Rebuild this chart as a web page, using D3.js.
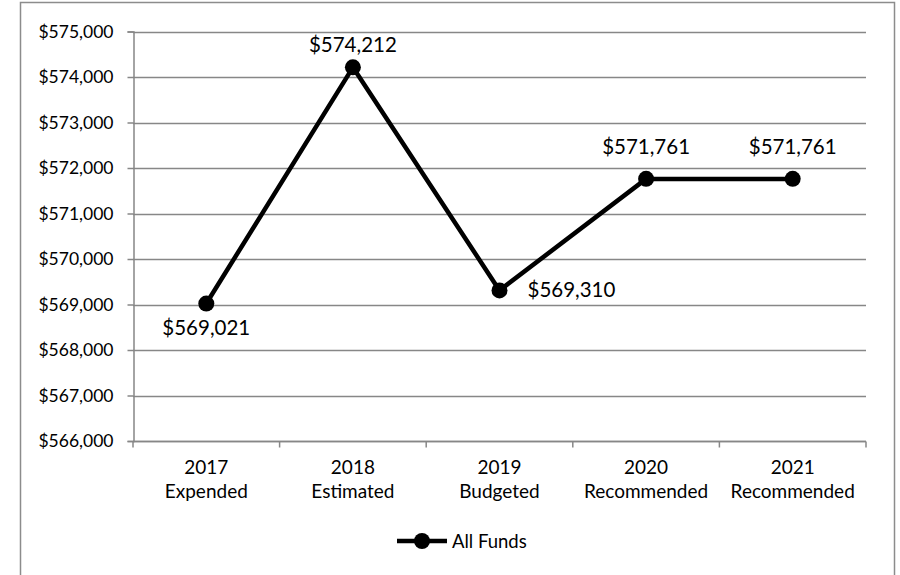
<!DOCTYPE html>
<html>
<head>
<meta charset="utf-8">
<script src="https://cdn.jsdelivr.net/npm/d3@7"></script>
<style>
  body { margin: 0; background: #fff; }
  text { font-family: Lato, "Open Sans", sans-serif; fill: #000; }
</style>
</head>
<body>
<svg id="chart"></svg>
<script>
// chart data
const years = ["2017", "2018", "2019", "2020", "2021"];
const stages = ["Expended", "Estimated", "Budgeted", "Recommended", "Recommended"];
const allFunds = [569021, 574212, 569310, 571761, 571761];
const yTicks = [566000, 567000, 568000, 569000, 570000, 571000, 572000, 573000, 574000, 575000];
// where each value label sits relative to its point
const labelPos = ["below", "top", "right", "above", "above"];
const seriesName = "All Funds";

const width = 900;
const height = 575;
const margin = { top: 31.5, right: 34, bottom: 134, left: 133 };

const svg = d3.select("#chart")
    .attr("width", width)
    .attr("height", height);

// outer chart frame
svg.append("rect")
    .attr("x", 20.5)
    .attr("y", 2.5)
    .attr("width", 874)
    .attr("height", 590)
    .attr("fill", "none")
    .attr("stroke", "#8c8c8c")
    .attr("stroke-width", 1.5);

const data = years.map((y, i) => ({ year: y, stage: stages[i], value: allFunds[i], pos: labelPos[i] }));

const x = d3.scaleBand()
    .domain(years)
    .range([margin.left, width - margin.right]);

const y = d3.scaleLinear()
    .domain([566000, 575000])
    .range([height - margin.bottom, margin.top]);

const fmt = v => "$" + d3.format(",")(v);

// gridlines
svg.append("g")
    .selectAll("line")
    .data(yTicks)
    .join("line")
    .attr("x1", margin.left)
    .attr("x2", width - margin.right)
    .attr("y1", d => Math.round(y(d)) + 0.5)
    .attr("y2", d => Math.round(y(d)) + 0.5)
    .attr("stroke", "#878787")
    .attr("stroke-width", 1.5);

// y axis
const yAxis = svg.append("g")
    .attr("transform", `translate(${margin.left + 0.5},0)`)
    .call(d3.axisLeft(y).tickValues(yTicks).tickFormat(fmt).tickSize(6).tickPadding(14));
yAxis.selectAll("path, line").attr("stroke", "#878787").attr("stroke-width", 1.5);
yAxis.selectAll("text").style("font-size", "17.5px");

// x axis with ticks at band edges
const xAxisG = svg.append("g")
    .attr("transform", `translate(0,${Math.round(y(566000)) + 0.5})`);
xAxisG.append("line")
    .attr("x1", margin.left)
    .attr("x2", width - margin.right)
    .attr("stroke", "#878787")
    .attr("stroke-width", 1.5);
const edges = years.map(d => x(d)).concat([x(years[years.length - 1]) + x.bandwidth()]);
xAxisG.selectAll(".tk")
    .data(edges)
    .join("line")
    .attr("x1", d => d)
    .attr("x2", d => d)
    .attr("y1", 0)
    .attr("y2", 6)
    .attr("stroke", "#878787")
    .attr("stroke-width", 1.5);

const xLabels = svg.append("g")
    .selectAll("text")
    .data(data)
    .join("text")
    .attr("text-anchor", "middle")
    .style("font-size", "19px");
xLabels.append("tspan")
    .attr("x", d => x(d.year) + x.bandwidth() / 2)
    .attr("y", 474)
    .text(d => d.year);
xLabels.append("tspan")
    .attr("x", d => x(d.year) + x.bandwidth() / 2)
    .attr("y", 498)
    .text(d => d.stage);

// series line
const cx = d => x(d.year) + x.bandwidth() / 2;
const line = d3.line()
    .x(cx)
    .y(d => y(d.value));

svg.append("path")
    .datum(data)
    .attr("d", line)
    .attr("fill", "none")
    .attr("stroke", "#000")
    .attr("stroke-width", 4.5)
    .attr("stroke-linejoin", "round");

svg.append("g")
    .selectAll("circle")
    .data(data)
    .join("circle")
    .attr("cx", cx)
    .attr("cy", d => y(d.value))
    .attr("r", 8)
    .attr("fill", "#000");

// value labels (the top one is pushed inside the plot area)
svg.append("g")
    .selectAll("text")
    .data(data)
    .join("text")
    .attr("x", d => d.pos === "right" ? cx(d) + 28 : cx(d))
    .attr("y", d => {
        if (d.pos === "above") return y(d.value) - 25;
        if (d.pos === "top") return margin.top + 20.5;
        if (d.pos === "below") return y(d.value) + 31.5;
        return y(d.value) + 6.5;
    })
    .attr("text-anchor", d => d.pos === "right" ? "start" : "middle")
    .style("font-size", "20.5px")
    .text(d => fmt(d.value));

// legend
const legend = svg.append("g").attr("transform", "translate(397,541)");
legend.append("line")
    .attr("x1", 0)
    .attr("x2", 50)
    .attr("stroke", "#000")
    .attr("stroke-width", 4.5);
legend.append("circle")
    .attr("cx", 25)
    .attr("r", 8)
    .attr("fill", "#000");
legend.append("text")
    .attr("x", 55)
    .attr("y", 6.5)
    .style("font-size", "18.5px")
    .text(seriesName);
</script>
</body>
</html>
